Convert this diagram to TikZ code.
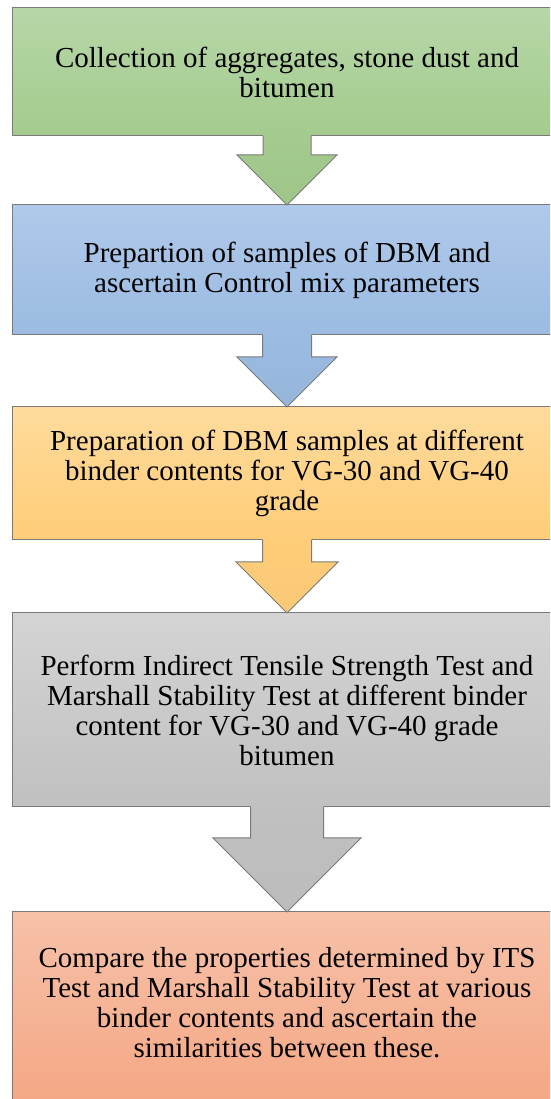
\documentclass[tikz,border=0pt]{standalone}
\usepackage{fontspec}
\setmainfont{Liberation Serif}
\newfontfamily\tnrfont{Liberation Serif}
\usetikzlibrary{calc}
\definecolor{gtop}{HTML}{B6D7A8}\definecolor{gbot}{HTML}{A4CB8D}
\definecolor{btop}{HTML}{AFC9EA}\definecolor{bbot}{HTML}{9BBBE2}
\definecolor{otop}{HTML}{FFDB9C}\definecolor{obot}{HTML}{FFCD78}
\definecolor{ytop}{HTML}{D4D4D4}\definecolor{ybot}{HTML}{C0C0C0}
\definecolor{rtop}{HTML}{F7C1A8}\definecolor{rbot}{HTML}{F4A683}
\definecolor{edge}{HTML}{7A7A7A}
\tikzset{
  boxtext/.style={font=\tnrfont\fontsize{29}{30}\selectfont, text=black},
  procbox/.style={rectangle, draw=edge, line width=1pt, outer sep=0pt, inner sep=0pt,
    minimum width=550pt, align=center, boxtext},
  arrowline/.style={draw=edge, line width=1pt, line join=miter},
}
% #1 from, #2 to, #3 shaft half width, #4 head half width (= head height), #5 top colour, #6 bottom colour
\newcommand\blockarrow[6]{%
  \path[top color=#5, bottom color=#6]
    ($(#1.south)+(-#3,1.5)$) -- ($(#2.north)+(-#3,#4)$) -- ($(#2.north)+(-#4,#4)$) --
    (#2.north) -- ($(#2.north)+(#4,#4)$) -- ($(#2.north)+(#3,#4)$) --
    ($(#1.south)+(#3,1.5)$) -- cycle;
  \draw[arrowline]
    ($(#1.south)+(-#3,0)$) -- ($(#2.north)+(-#3,#4)$) -- ($(#2.north)+(-#4,#4)$) --
    (#2.north) -- ($(#2.north)+(#4,#4)$) -- ($(#2.north)+(#3,#4)$) --
    ($(#1.south)+(#3,0)$);
}
\begin{document}
\begin{tikzpicture}[x=1pt,y=1pt]
\useasboundingbox (0,0) rectangle (550,1099);
\clip (0,0) rectangle (550,1099);
\node[procbox, minimum height=128pt, top color=gtop, bottom color=gbot] (b1) at (287,1027)
  {Collection of aggregates, stone dust and\\bitumen};
\node[procbox, minimum height=130pt, top color=btop, bottom color=bbot] (b2) at (287,829)
  {Prepartion of samples of DBM and\\ascertain Control mix parameters};
\node[procbox, minimum height=133pt, top color=otop, bottom color=obot] (b3) at (287,625.5)
  {Preparation of DBM samples at different\\binder contents for VG-30 and VG-40\\grade};
\node[procbox, minimum height=194pt, top color=ytop, bottom color=ybot] (b4) at (287,389)
  {Perform Indirect Tensile Strength Test and\\Marshall Stability Test at different binder\\content for VG-30 and VG-40 grade\\bitumen};
\node[procbox, minimum height=200pt, top color=rtop, bottom color=rbot] (b5) at (287,87) {};
\node[align=center, boxtext, inner sep=0pt] (t5) at (287,96)
  {Compare the properties determined by ITS\\Test and Marshall Stability Test at various\\binder contents and ascertain the\\similarities between these.};
\blockarrow{b1}{b2}{24}{50}{gbot}{gbot!97!black}
\blockarrow{b2}{b3}{24.5}{50}{bbot}{bbot!97!black}
\blockarrow{b3}{b4}{24.5}{51}{obot}{obot!98!black}
\blockarrow{b4}{b5}{36.5}{74}{ybot}{ybot!98!black}
\end{tikzpicture}
\end{document}
